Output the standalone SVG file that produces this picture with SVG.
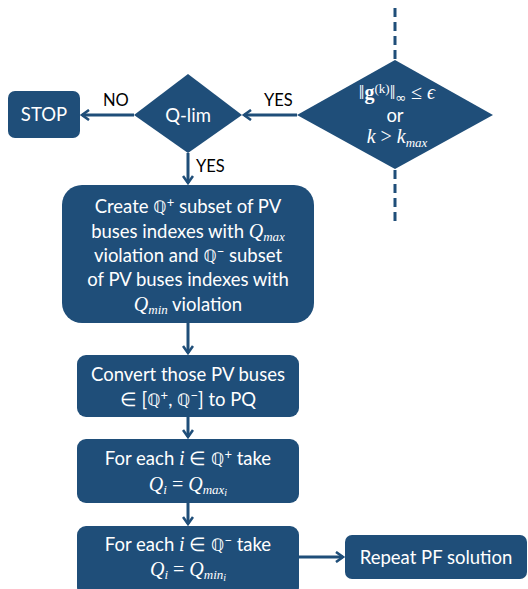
<svg xmlns="http://www.w3.org/2000/svg" width="528" height="589" viewBox="0 0 528 589">
<defs>
<style>
.n{fill:#1f4e79;}
.t{fill:#ffffff;font-family:"Lato","Open Sans",sans-serif;font-size:18.5px;text-anchor:middle;}
.m{font-family:"Liberation Serif","DejaVu Serif",serif;font-style:italic;font-size:20px;}
.r{font-family:"Liberation Serif","DejaVu Serif",serif;font-style:normal;font-size:20px;}
.b{font-weight:bold;}
.q{font-family:"DejaVu Sans",sans-serif;font-style:normal;font-size:17px;}
.s{font-size:13px;}
.l{fill:#000000;font-family:"Lato","Open Sans",sans-serif;font-size:16.5px;}
.c{stroke:#1f4e79;stroke-width:3;fill:none;}
.d{stroke:#1f4e79;stroke-width:3;fill:none;stroke-dasharray:9,5;}
</style>
<marker id="a" markerWidth="12" markerHeight="12" refX="9" refY="6" orient="auto" markerUnits="userSpaceOnUse">
<path d="M2,1 L9,6 L2,11" fill="none" stroke="#1f4e79" stroke-width="2.6"/>
</marker>
</defs>
<g id="connectors">
<line class="d" x1="395" y1="8" x2="395" y2="60"/>
<line class="d" x1="395" y1="170" x2="395" y2="222"/>
<line class="c" x1="297" y1="115" x2="244" y2="115" marker-end="url(#a)"/>
<line class="c" x1="134" y1="115" x2="82" y2="115" marker-end="url(#a)"/>
<line class="c" x1="188" y1="153" x2="188" y2="183" marker-end="url(#a)"/>
<line class="c" x1="188" y1="323" x2="188" y2="353" marker-end="url(#a)"/>
<line class="c" x1="188" y1="417" x2="188" y2="437" marker-end="url(#a)"/>
<line class="c" x1="188" y1="503" x2="188" y2="524" marker-end="url(#a)"/>
<line class="c" x1="299" y1="557" x2="343" y2="557" marker-end="url(#a)"/>
<text class="l" x="103" y="106">NO</text>
<text class="l" x="264" y="106">YES</text>
<text class="l" x="196" y="172">YES</text>
</g>
<g id="check">
<polygon class="n" points="395,60 493,115 395,169 297,115"/>
<text class="t" x="397" y="99"><tspan class="r">‖</tspan><tspan class="r b">g</tspan><tspan class="r s" baseline-shift="6">(k)</tspan><tspan class="r">‖</tspan><tspan class="q s" baseline-shift="-3">∞</tspan><tspan class="r"> ≤ </tspan><tspan class="m">ϵ</tspan></text>
<text class="t" x="395" y="122">or</text>
<text class="t" x="397" y="143"><tspan class="m">k</tspan><tspan class="r"> &gt; </tspan><tspan class="m">k</tspan><tspan class="m s" baseline-shift="-4">max</tspan></text>
</g>
<g id="qlim">
<polygon class="n" points="188,74 242,115 188,153 134,115"/>
<text class="t" x="188" y="122" font-size="20">Q-lim</text>
</g>
<g id="stop">
<rect class="n" x="8" y="91" width="72" height="47" rx="7"/>
<text class="t" x="44" y="121">STOP</text>
</g>
<g id="create">
<rect class="n" x="62" y="185" width="252" height="138" rx="20"/>
<text class="t" x="188" y="213">Create <tspan class="q">ℚ</tspan><tspan class="s" baseline-shift="6">+</tspan> subset of PV</text>
<text class="t" x="188" y="238">buses indexes with <tspan class="m">Q</tspan><tspan class="m s" baseline-shift="-3">max</tspan></text>
<text class="t" x="188" y="262">violation and <tspan class="q">ℚ</tspan><tspan class="s" baseline-shift="6">−</tspan> subset</text>
<text class="t" x="188" y="286">of PV buses indexes with</text>
<text class="t" x="188" y="311"><tspan class="m">Q</tspan><tspan class="m s" baseline-shift="-3">min</tspan> violation</text>
</g>
<g id="convert">
<rect class="n" x="77" y="355" width="222" height="62" rx="9"/>
<text class="t" x="188" y="381">Convert those PV buses</text>
<text class="t" x="188" y="406">∈ [<tspan class="q">ℚ</tspan><tspan class="s" baseline-shift="6">+</tspan>, <tspan class="q">ℚ</tspan><tspan class="s" baseline-shift="6">−</tspan>] to PQ</text>
</g>
<g id="qmax">
<rect class="n" x="77" y="439" width="222" height="64" rx="9"/>
<text class="t" x="188" y="465">For each <tspan class="m">i</tspan> ∈ <tspan class="q">ℚ</tspan><tspan class="s" baseline-shift="6">+</tspan> take</text>
<text class="t" x="188" y="491"><tspan class="m">Q</tspan><tspan class="m s" baseline-shift="-3">i</tspan><tspan class="r"> = </tspan><tspan class="m">Q</tspan><tspan class="m s" baseline-shift="-3">max<tspan font-size="10px" baseline-shift="-2">i</tspan></tspan></text>
</g>
<g id="qmin">
<rect class="n" x="77" y="526" width="222" height="70" rx="9"/>
<text class="t" x="188" y="551">For each <tspan class="m">i</tspan> ∈ <tspan class="q">ℚ</tspan><tspan class="s" baseline-shift="6">−</tspan> take</text>
<text class="t" x="188" y="576"><tspan class="m">Q</tspan><tspan class="m s" baseline-shift="-3">i</tspan><tspan class="r"> = </tspan><tspan class="m">Q</tspan><tspan class="m s" baseline-shift="-3">min<tspan font-size="10px" baseline-shift="-2">i</tspan></tspan></text>
</g>
<g id="repeat">
<rect class="n" x="345" y="535" width="182" height="44" rx="7"/>
<text class="t" x="436" y="564">Repeat PF solution</text>
</g>
</svg>
